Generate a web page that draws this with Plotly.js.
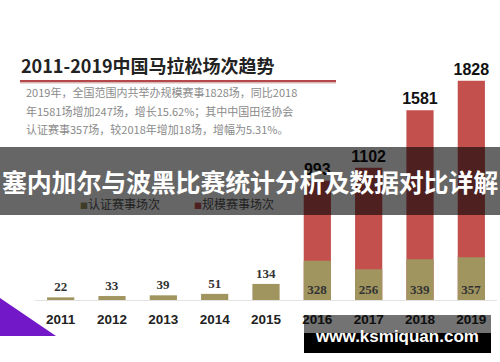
<!DOCTYPE html>
<html>
<head>
<meta charset="utf-8">
<script src="https://cdn.plot.ly/plotly-3.0.1.min.js"></script>
<style>
  html, body { margin: 0; padding: 0; background: #fff; }
  #wrap { position: relative; width: 500px; height: 362px; overflow: hidden; }
  #chart { position: absolute; left: 0; top: 0; width: 500px; height: 362px; }
  #band { position: absolute; left: 0; top: 147px; width: 500px; height: 68px;
          background: rgba(0,0,0,0.6); color: #fff; text-align: center;
          font-family: "Noto Sans CJK SC", sans-serif; font-weight: bold;
          font-size: 25px; line-height: 68px; white-space: nowrap; letter-spacing: -0.2px; }
  #wm { position: absolute; left: 304px; top: 315px; width: 187px; height: 38px;
        background: linear-gradient(to bottom, rgba(0,0,0,0.55) 0%, rgba(0,0,0,0.55) 47%, #000 47%, #000 100%);
        color: #fff; text-align: center; font-family: "Liberation Sans", Arial, sans-serif;
        font-weight: bold; font-size: 17px; line-height: 44px; white-space: nowrap; }
</style>
</head>
<body>
<div id="wrap">
  <div id="chart"></div>
  <div id="band">塞内加尔与波黑比赛统计分析及数据对比详解</div>
  <div id="wm">www.ksmiquan.com</div>
</div>
<script>
// ---- data ----
const years = ["2011", "2012", "2013", "2014", "2015", "2016", "2017", "2018", "2019"];
const certified = [22, 33, 39, 51, 134, 328, 256, 339, 357];          // 认证赛事场次
const scaleEvents = [null, null, null, null, null, 993, 1102, 1581, 1828]; // 规模赛事场次
const seriesNames = ["认证赛事场次", "规模赛事场次"];
const chartTitle = "2011-2019中国马拉松场次趋势";
const subtitleLines = [
  "2019年，全国范围内共举办规模赛事1828场，同比2018",
  "年1581场增加247场，增长15.62%；其中中国田径协会",
  "认证赛事357场，较2018年增加18场，增幅为5.31%。"
];

// ---- layout helpers (pixel -> paper) ----
const L = 35, R = 3, T = 60, B = 62, W = 500, H = 362;
const pw = W - L - R, ph = H - T - B;
const px = p => (p - L) / pw;
const py = p => 1 - (p - T) / ph;

const olive = "#a0955f";
const red = "#c4504e";

const redTrace = {
  type: "bar", x: years, y: scaleEvents, name: seriesNames[1],
  marker: { color: red },
  text: scaleEvents.map(v => v == null ? "" : String(v)),
  textposition: "outside",
  outsidetextfont: { family: "Liberation Sans, Arial, sans-serif", size: 16, color: "#111", weight: "bold" },
  constraintext: "none", cliponaxis: false, hoverinfo: "skip", showlegend: false
};
const oliveTrace = {
  type: "bar", x: years, y: certified, name: seriesNames[0],
  marker: { color: olive },
  text: certified.map(String),
  textposition: certified.map((v, i) => scaleEvents[i] == null ? "outside" : "inside"),
  insidetextanchor: "start",
  outsidetextfont: { family: "Liberation Serif, DejaVu Serif, serif", size: 13, color: "#333", weight: "bold" },
  insidetextfont: { family: "Liberation Serif, DejaVu Serif, serif", size: 13, color: "#333", weight: "bold" },
  constraintext: "none", cliponaxis: false, hoverinfo: "skip", showlegend: false
};

const annotations = [
  { xref: "paper", yref: "paper", x: px(19), y: py(65), xanchor: "left", yanchor: "middle",
    text: "<b>" + chartTitle + "</b>", showarrow: false,
    font: { family: "Noto Sans CJK SC, sans-serif", size: 18, color: "#222" } }
];
const subY = [92, 111, 129];
subtitleLines.forEach((t, i) => annotations.push({
  xref: "paper", yref: "paper", x: px(24), y: py(subY[i]), xanchor: "left", yanchor: "middle",
  text: t, showarrow: false,
  font: { family: "Noto Sans CJK SC, sans-serif", size: 11, color: "#8a8a8a" }
}));
const legX = [78, 192];
const legC = [olive, red];
seriesNames.forEach((n, i) => annotations.push({
  xref: "paper", yref: "paper", x: px(legX[i]), y: py(203), xanchor: "left", yanchor: "middle",
  text: '<span style="color:' + legC[i] + ';font-size:8px">■</span>' + n, showarrow: false,
  font: { family: "Noto Sans CJK SC, sans-serif", size: 12, color: "#555" }
}));

const shapes = [
  { type: "line", xref: "paper", yref: "paper", x0: px(20), x1: px(336), y0: py(82.5), y1: py(82.5),
    line: { color: "#d9b6b6", width: 2 } },
  { type: "line", xref: "paper", yref: "paper", x0: px(20), x1: px(336), y0: py(81), y1: py(81),
    line: { color: "#b5484b", width: 2 } },
  { type: "path", xref: "paper", yref: "paper",
    path: "M " + px(0) + " " + py(298) + " L " + px(56) + " " + py(336) + " L " + px(0) + " " + py(336) + " Z",
    fillcolor: "#7318c8", line: { width: 0 } }
];

const layout = {
  width: W, height: H,
  margin: { l: L, r: R, t: T, b: B, pad: 0 },
  paper_bgcolor: "#fff", plot_bgcolor: "#fff",
  barmode: "overlay", bargap: 0.47,
  showlegend: false,
  xaxis: {
    type: "category", range: [-0.5, 8.5], showgrid: false, zeroline: false,
    showline: true, linecolor: "#e2e2e2", linewidth: 1, ticks: "",
    ticklabelstandoff: 7,
    tickfont: { family: "Liberation Sans, Arial, sans-serif", size: 13.5, color: "#222", weight: "bold" },
    fixedrange: true
  },
  yaxis: { range: [0, 2000], visible: false, showgrid: false, zeroline: false, fixedrange: true },
  annotations: annotations,
  shapes: shapes,
  uniformtext: { mode: false }
};

Plotly.newPlot("chart", [redTrace, oliveTrace], layout, { staticPlot: true, displayModeBar: false });
</script>
</body>
</html>
